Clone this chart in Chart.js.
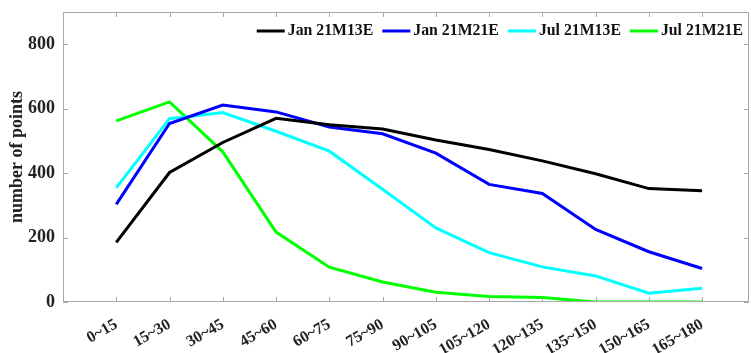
<!DOCTYPE html>
<html>
<head>
<meta charset="utf-8">
<script src="https://cdn.jsdelivr.net/npm/chart.js@4/dist/chart.umd.min.js"></script>
<style>
html,body{margin:0;padding:0;background:#fff;}
#wrap{width:751px;height:353px;position:relative;}
</style>
</head>
<body>
<div id="wrap"><canvas id="c" width="751" height="353"></canvas></div>
<script>
const categories = ["0~15","15~30","30~45","45~60","60~75","75~90","90~105","105~120","120~135","135~150","150~165","165~180"];
const seriesNames = ["Jan 21M13E","Jan 21M21E","Jul 21M13E","Jul 21M21E"];
const jan13 = [185, 402, 495, 570, 550, 537, 503, 473, 438, 398, 352, 345];
const jan21 = [303, 554, 611, 590, 543, 522, 462, 365, 337, 225, 156, 104];
const jul13 = [354, 569, 588, 530, 468, 350, 230, 153, 109, 81, 27, 43];
const jul21 = [562, 621, 466, 217, 108, 62, 30, 17, 14, 0, 0, 0];
const yTicks = [0, 200, 400, 600, 800];
const colors = ["#000000", "#0000ff", "#00ffff", "#00ff00"];

const FONT = "'Liberation Serif', 'Times New Roman', serif";
const toPts = arr => arr.map((v, i) => ({x: i, y: v}));
const allSeries = [jan13, jan21, jul13, jul21];

const framePlugin = {
  id: 'frame',
  afterDraw(chart) {
    const {ctx, chartArea: a, scales: {x, y}} = chart;
    ctx.save();
    ctx.strokeStyle = '#a8a8a8';
    ctx.lineWidth = 1;
    ctx.beginPath();
    ctx.rect(a.left + 0.5, a.top + 0.5, a.right - a.left - 1, a.bottom - a.top - 1);
    ctx.stroke();
    const L = 5;
    ctx.beginPath();
    categories.forEach((c, i) => {
      const px = Math.round(x.getPixelForValue(i)) + 0.5;
      ctx.moveTo(px, a.bottom); ctx.lineTo(px, a.bottom - L);
      ctx.moveTo(px, a.top); ctx.lineTo(px, a.top + L);
    });
    yTicks.forEach(v => {
      const py = Math.round(y.getPixelForValue(v)) + 0.5;
      ctx.moveTo(a.left, py); ctx.lineTo(a.left + L, py);
      ctx.moveTo(a.right, py); ctx.lineTo(a.right - L, py);
    });
    ctx.stroke();

    // legend
    ctx.font = "bold 15.8px " + FONT;
    ctx.textBaseline = 'middle';
    const ly = 31;
    const lineLen = 28, gap1 = 3, gap2 = 9;
    let xEnd = 743;
    const items = chart.data.datasets.map(d => ({label: d.label, color: d.borderColor, w: ctx.measureText(d.label).width}));
    let total = items.reduce((s, it) => s + lineLen + gap1 + it.w, 0) + gap2 * (items.length - 1);
    let cx = xEnd - total;
    items.forEach(it => {
      ctx.strokeStyle = it.color;
      ctx.lineWidth = 3;
      ctx.beginPath();
      ctx.moveTo(cx, ly); ctx.lineTo(cx + lineLen, ly);
      ctx.stroke();
      cx += lineLen + gap1;
      ctx.fillStyle = '#111';
      ctx.fillText(it.label, cx, ly);
      cx += it.w + gap2;
    });
    ctx.restore();
  }
};

new Chart(document.getElementById('c'), {
  type: 'line',
  data: {
    datasets: allSeries.map((s, i) => ({
      label: seriesNames[i],
      data: toPts(s),
      borderColor: colors[i],
      backgroundColor: colors[i],
      borderWidth: 3,
      pointRadius: 0,
      tension: 0,
      fill: false
    }))
  },
  options: {
    responsive: false,
    animation: false,
    layout: {padding: {top: 12, right: 2, left: 0, bottom: 0}},
    plugins: {legend: {display: false}, tooltip: {enabled: false}},
    scales: {
      x: {
        type: 'linear',
        min: -1,
        max: 11.88,
        grid: {display: false, drawTicks: false},
        border: {display: false},
        afterBuildTicks: s => { s.ticks = categories.map((c, i) => ({value: i})); },
        afterFit: s => { s.height = 51; s.paddingLeft = 0; s.paddingRight = 0; },
        ticks: {
          autoSkip: false,
          minRotation: 30,
          maxRotation: 30,
          padding: 13,
          color: '#222',
          font: {family: FONT, size: 16, weight: 'bold'},
          callback: v => categories[v]
        }
      },
      y: {
        min: 0,
        max: 900,
        grid: {display: false, drawTicks: false},
        border: {display: false},
        afterBuildTicks: s => { s.ticks = yTicks.map(v => ({value: v})); },
        afterFit: s => { s.width = 63; s.paddingTop = 0; s.paddingBottom = 0; },
        ticks: {
          padding: 8,
          color: '#222',
          font: {family: FONT, size: 18, weight: 'bold'}
        },
        title: {
          display: true,
          text: 'number of points',
          color: '#222',
          padding: {top: 7, bottom: 0},
          font: {family: FONT, size: 18, weight: 'bold'}
        }
      }
    }
  },
  plugins: [framePlugin]
});
</script>
</body>
</html>
